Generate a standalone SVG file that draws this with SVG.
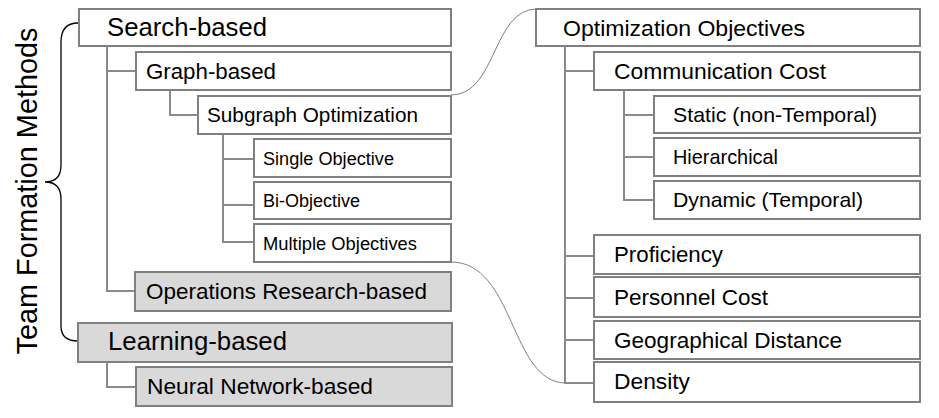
<svg xmlns="http://www.w3.org/2000/svg" width="939" height="418" viewBox="0 0 939 418">
<style>
.box{fill:#ffffff;stroke:#808080;stroke-width:2}
.gbox{fill:#d9d9d9;stroke:#808080;stroke-width:2}
.t{font-family:"Liberation Sans",Arial,sans-serif;fill:#000}
.l0{font-size:25.5px}
.l1{font-size:22.5px}
.l2{font-size:21px}
.l3{font-size:18px}
.conn{fill:none;stroke:#8a8a8a;stroke-width:2}
.curve{fill:none;stroke:#808080;stroke-width:1}
.brace{fill:none;stroke:#000;stroke-width:1.3}
</style>
<rect width="939" height="418" fill="#ffffff"/>
<g id="connectors">
<path class="conn" d="M107,46 V291 H135 M107,71 H136"/>
<path class="conn" d="M170,90 V115 H198"/>
<path class="conn" d="M223,134 V242 H254 M223,159 H254 M223,205 H254"/>
<path class="conn" d="M107,362 V387 H136"/>
<path class="conn" d="M565,46 V383 H594 M565,71 H594 M565,256 H594 M565,298 H594 M565,340 H594"/>
<path class="conn" d="M624,90 V200 H654 M624,115 H654 M624,157 H654"/>
<path class="curve" d="M451,95 C497,95 492,9 537,9"/>
<path class="curve" d="M451,262 C515,262 510,383 566,383"/>
<path class="brace" d="M78,23 C66,23 61,30 61,42 L61,165 C61,176 56,182 45,182 C56,182 61,188 61,199 L61,326 C61,336 66,341 78,341"/>
</g>
<g id="label-team-formation">
<text class="t" font-size="29" text-anchor="middle" transform="translate(37,191) rotate(-90)" textLength="327" lengthAdjust="spacingAndGlyphs">Team Formation Methods</text>
</g>
<g id="search-based"><rect class="box" x="79" y="9" width="372" height="37"/><text class="t l0" x="107" y="36" textLength="160" lengthAdjust="spacingAndGlyphs">Search-based</text></g>
<g id="graph-based"><rect class="box" x="136" y="52" width="315" height="38"/><text class="t l1" x="146" y="79" textLength="130" lengthAdjust="spacingAndGlyphs">Graph-based</text></g>
<g id="subgraph-optimization"><rect class="box" x="198" y="96" width="253" height="38"/><text class="t l2" x="207" y="122" textLength="211" lengthAdjust="spacingAndGlyphs">Subgraph Optimization</text></g>
<g id="single-objective"><rect class="box" x="254" y="139" width="197" height="38"/><text class="t l3" x="263" y="165" textLength="131" lengthAdjust="spacingAndGlyphs">Single Objective</text></g>
<g id="bi-objective"><rect class="box" x="254" y="182" width="197" height="37"/><text class="t l3" x="263" y="207" textLength="97" lengthAdjust="spacingAndGlyphs">Bi-Objective</text></g>
<g id="multiple-objectives"><rect class="box" x="254" y="224" width="197" height="38"/><text class="t l3" x="263" y="250" textLength="154" lengthAdjust="spacingAndGlyphs">Multiple Objectives</text></g>
<g id="operations-research-based"><rect class="gbox" x="135" y="272" width="316" height="39"/><text class="t l1" x="146" y="299" textLength="281" lengthAdjust="spacingAndGlyphs">Operations Research-based</text></g>
<g id="learning-based"><rect class="gbox" x="78" y="323" width="374" height="39"/><text class="t l0" x="108" y="350" textLength="179" lengthAdjust="spacingAndGlyphs">Learning-based</text></g>
<g id="neural-network-based"><rect class="gbox" x="136" y="367" width="316" height="39"/><text class="t l1" x="147" y="394" textLength="226" lengthAdjust="spacingAndGlyphs">Neural Network-based</text></g>
<g id="optimization-objectives"><rect class="box" x="536" y="9" width="384" height="37"/><text class="t l1" x="563" y="36" textLength="242" lengthAdjust="spacingAndGlyphs">Optimization Objectives</text></g>
<g id="communication-cost"><rect class="box" x="594" y="52" width="326" height="38"/><text class="t l1" x="614" y="79" textLength="212" lengthAdjust="spacingAndGlyphs">Communication Cost</text></g>
<g id="static"><rect class="box" x="654" y="96" width="266" height="37"/><text class="t l2" x="673" y="122" textLength="204" lengthAdjust="spacingAndGlyphs">Static (non-Temporal)</text></g>
<g id="hierarchical"><rect class="box" x="654" y="138" width="266" height="38"/><text class="t l2" x="673" y="164" textLength="105" lengthAdjust="spacingAndGlyphs">Hierarchical</text></g>
<g id="dynamic"><rect class="box" x="654" y="181" width="266" height="38"/><text class="t l2" x="673" y="207" textLength="190" lengthAdjust="spacingAndGlyphs">Dynamic (Temporal)</text></g>
<g id="proficiency"><rect class="box" x="594" y="235" width="326" height="39"/><text class="t l1" x="614" y="262" textLength="109" lengthAdjust="spacingAndGlyphs">Proficiency</text></g>
<g id="personnel-cost"><rect class="box" x="594" y="277" width="326" height="40"/><text class="t l1" x="614" y="305" textLength="154" lengthAdjust="spacingAndGlyphs">Personnel Cost</text></g>
<g id="geographical-distance"><rect class="box" x="594" y="321" width="326" height="38"/><text class="t l1" x="614" y="348" textLength="228" lengthAdjust="spacingAndGlyphs">Geographical Distance</text></g>
<g id="density"><rect class="box" x="594" y="362" width="326" height="40"/><text class="t l1" x="614" y="389" textLength="76" lengthAdjust="spacingAndGlyphs">Density</text></g>
</svg>
